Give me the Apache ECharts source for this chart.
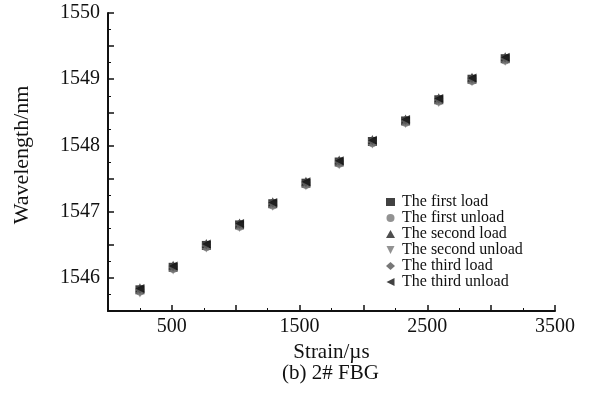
<!DOCTYPE html>
<html>
<head>
<meta charset="utf-8">
<script src="https://cdn.jsdelivr.net/npm/echarts@6/dist/echarts.min.js"></script>
<style>
  html, body { margin: 0; padding: 0; background: #fff; }
  #chart { width: 596px; height: 393px; }
</style>
</head>
<body>
<div id="chart"></div>
<script>
// strain steps (µs)
const strain = [250, 510, 770, 1030, 1290, 1550, 1810, 2070, 2330, 2590, 2850, 3110]

// wavelength readings (nm) for each cycle
const firstLoad    = [1545.82, 1546.16, 1546.49, 1546.80, 1547.12, 1547.43, 1547.75, 1548.06, 1548.37, 1548.69, 1549.00, 1549.31]
const firstUnload  = [1545.80, 1546.14, 1546.47, 1546.78, 1547.10, 1547.41, 1547.73, 1548.04, 1548.35, 1548.67, 1548.98, 1549.29]
const secondLoad   = [1545.85, 1546.19, 1546.52, 1546.83, 1547.15, 1547.46, 1547.78, 1548.09, 1548.40, 1548.72, 1549.03, 1549.34]
const secondUnload = [1545.77, 1546.12, 1546.45, 1546.76, 1547.08, 1547.39, 1547.71, 1548.02, 1548.33, 1548.65, 1548.96, 1549.27]
const thirdLoad    = [1545.83, 1546.17, 1546.50, 1546.81, 1547.13, 1547.44, 1547.76, 1548.07, 1548.38, 1548.70, 1549.01, 1549.32]
const thirdUnload  = [1545.84, 1546.18, 1546.51, 1546.82, 1547.14, 1547.45, 1547.77, 1548.08, 1548.39, 1548.71, 1549.02, 1549.33]

const xLabels = [500, 1500, 2500, 3500]

const seriesDefs = [
  { name: 'The first load', data: firstLoad, symbol: 'rect', color: '#111' },
  { name: 'The first unload', data: firstUnload, symbol: 'circle', color: '#777' },
  { name: 'The second load', data: secondLoad, symbol: 'triangle', color: '#222' },
  { name: 'The second unload', data: secondUnload, symbol: 'path://M0,0 L10,0 L5,10 Z', color: '#777' },
  { name: 'The third load', data: thirdLoad, symbol: 'diamond', color: '#555' },
  { name: 'The third unload', data: thirdUnload, symbol: 'path://M10,0 L10,10 L0,5 Z', color: '#111' }
]

const chart = echarts.init(document.getElementById('chart'))

const font = '"Liberation Serif", "Times New Roman", serif'

const series = seriesDefs.map(d => ({
  name: d.name,
  type: 'scatter',
  symbol: d.symbol,
  symbolSize: 9,
  itemStyle: { color: d.color },
  data: d.data.map((v, i) => [strain[i], v])
}))

chart.setOption({
  animation: false,
  textStyle: { fontFamily: font },
  graphic: [{
    type: 'text',
    left: 282,
    top: 363,
    style: { text: '(b) 2# FBG', font: '21px ' + font, fill: '#111' }
  }],
  legend: {
    orient: 'vertical',
    left: 381,
    top: 189,
    itemWidth: 9,
    itemHeight: 8,
    itemGap: 0,
    textStyle: { fontFamily: font, fontSize: 16, lineHeight: 16, color: '#111', padding: [0, 0, 0, 2] },
    data: seriesDefs.map(d => ({ name: d.name, icon: d.symbol }))
  },
  grid: { left: 108, right: 41, top: 13, bottom: 82 },
  xAxis: {
    type: 'value',
    min: 0,
    max: 3500,
    interval: 500,
    name: 'Strain/µs',
    nameLocation: 'middle',
    nameGap: 31,
    nameTextStyle: { fontFamily: font, fontSize: 21, color: '#111' },
    axisLine: { lineStyle: { color: '#111', width: 2 } },
    axisTick: { inside: true, length: 6, lineStyle: { color: '#111', width: 1.5 } },
    minorTick: { show: true, splitNumber: 2, length: 3, lineStyle: { color: '#111' } },
    splitLine: { show: false },
    axisLabel: {
      fontFamily: font,
      fontSize: 20,
      color: '#111',
      margin: 6,
      formatter: v => (xLabels.includes(v) ? String(v) : '')
    }
  },
  yAxis: {
    type: 'value',
    min: 1545.5,
    max: 1550,
    interval: 0.5,
    name: 'Wavelength/nm',
    nameLocation: 'middle',
    nameGap: 75,
    nameTextStyle: { fontFamily: font, fontSize: 22, color: '#111', padding: [0, 0, 0, 14] },
    axisLine: { show: true, lineStyle: { color: '#111', width: 2 } },
    axisTick: { inside: true, length: 6, lineStyle: { color: '#111', width: 1.5 } },
    minorTick: { show: true, splitNumber: 2, length: 3, lineStyle: { color: '#111' } },
    splitLine: { show: false },
    axisLabel: {
      fontFamily: font,
      fontSize: 20,
      color: '#111',
      margin: 8,
      formatter: v => (Number.isInteger(v) ? String(v) : '')
    }
  },
  series
})
</script>
</body>
</html>
